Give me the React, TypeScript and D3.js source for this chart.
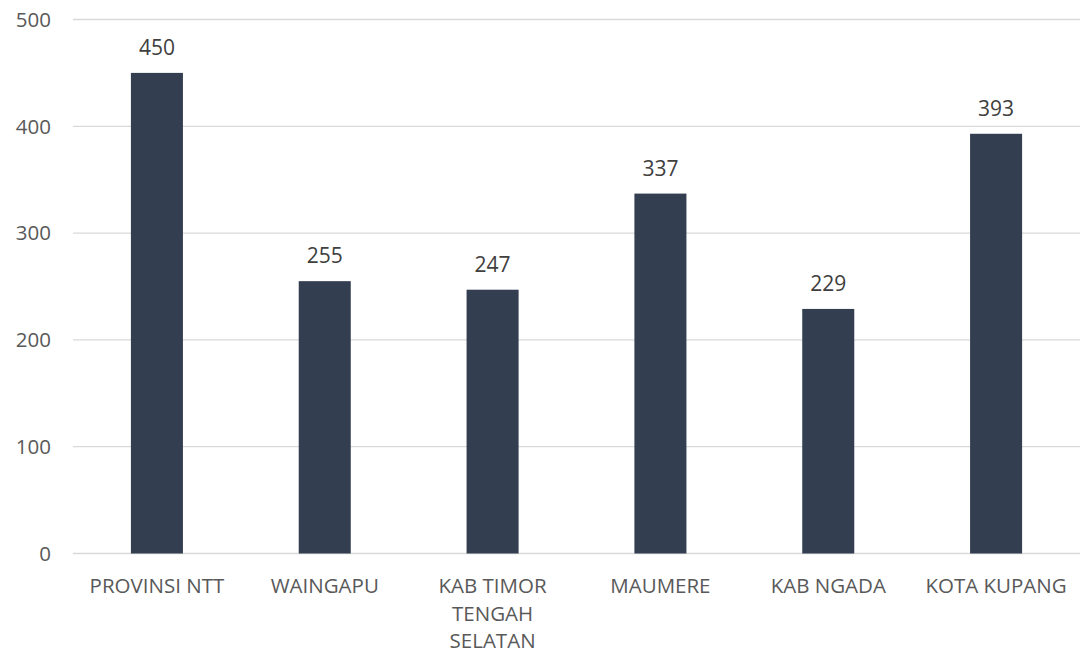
import React from "react";
import * as d3 from "d3";

const categories: string[][] = [
  ["PROVINSI NTT"],
  ["WAINGAPU"],
  ["KAB TIMOR", "TENGAH", "SELATAN"],
  ["MAUMERE"],
  ["KAB NGADA"],
  ["KOTA KUPANG"],
];
const values: number[] = [450, 255, 247, 337, 229, 393];
const yTicks: number[] = [0, 100, 200, 300, 400, 500];

const W = 1080;
const H = 653;
const left = 73;
const right = 1080;
const top = 19.5;
const bottom = 553.5;
const FONT = "'Open Sans', sans-serif";

export default function App() {
  const keys = categories.map((c) => c.join(" "));
  const x = d3.scaleBand<string>().domain(keys).range([left, right]).paddingInner(0.69).paddingOuter(0.345);
  const y = d3.scaleLinear().domain([0, 500]).range([bottom, top]);
  return (
    <svg width={W} height={H} style={{ position: "absolute", left: 0, top: 0 }} fontFamily={FONT}>
      <rect width={W} height={H} fill="#fff" />
      {yTicks.map((t) => (
        <g key={t}>
          <line x1={left} x2={right} y1={y(t)} y2={y(t)} stroke="#D9D9D9" strokeWidth={1.3} />
          <text x={51} y={y(t)} dy="0.36em" textAnchor="end" fontSize={20.5} fill="#595959">
            {t}
          </text>
        </g>
      ))}
      {values.map((v, i) => {
        const k = keys[i];
        const bx = x(k)!;
        return (
          <g key={k}>
            <rect x={bx} y={y(v)} width={x.bandwidth()} height={y(0) - y(v)} fill="#333F50" />
            <text x={bx + x.bandwidth() / 2} y={y(v) - 18} textAnchor="middle" fontSize={21} fill="#404040">
              {v}
            </text>
          </g>
        );
      })}
      {categories.map((lines, i) => {
        const k = keys[i];
        const cx = x(k)! + x.bandwidth() / 2;
        return (
          <text key={k} textAnchor="middle" fontSize={20.5} fill="#595959">
            {lines.map((l, j) => (
              <tspan key={j} x={cx} y={593 + j * 27.5}>
                {l}
              </tspan>
            ))}
          </text>
        );
      })}
    </svg>
  );
}
